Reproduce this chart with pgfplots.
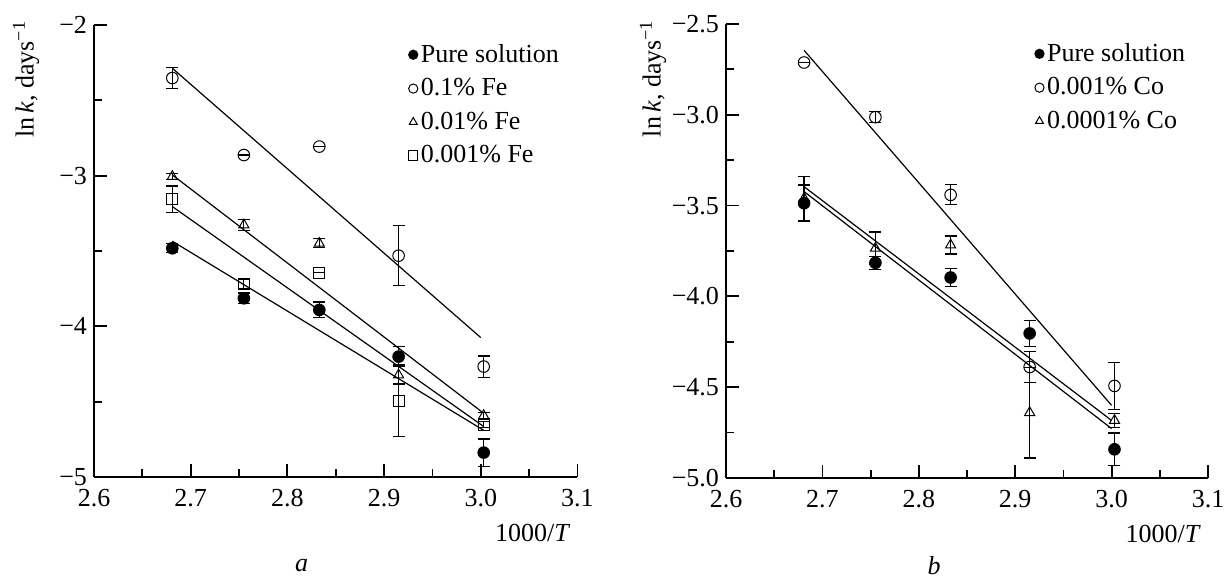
\documentclass[border=0pt]{standalone}
\usepackage{fontspec}
\setmainfont{Liberation Serif}
\usepackage{pgfplots}
\pgfplotsset{compat=1.18}

\pgfplotsset{
  kin/.style={
    scale only axis,
    axis lines=left,
    axis line style={-, line width=1.4pt},
    xmin=2.6, xmax=3.1,
    xtick={2.6,2.7,2.8,2.9,3.0,3.1},
    xticklabels={2.6,2.7,2.8,2.9,3.0,3.1},
    minor x tick num=1, minor y tick num=1,
    tick align=inside,
    major tick length=6.5pt, minor tick length=3.8pt,
    every tick/.style={black, line width=0.9pt},
    tick label style={font=\fontsize{13}{15}\selectfont},
    xticklabel style={yshift=-2.5pt},
    clip=false,
    legend cell align=left,
    legend image code/.code={\draw[mark size=2.3pt] plot coordinates {(0pt,0pt)};},
    legend style={draw=none, fill=none, font=\fontsize{13}{15}\selectfont,
      anchor=north west, row sep=3.6pt, inner sep=0pt,
      nodes={inner sep=1.5pt}},
  },
  pts/.style={only marks, black, mark size=2.9pt, line width=0.5pt,
    error bars/y dir=both, error bars/y explicit,
    error bars/error bar style={line width=0.6pt},
    error bars/error mark options={rotate=90, mark size=3pt, line width=0.6pt}},
  fit/.style={black, line width=0.6pt, no marks, forget plot},
}

\begin{document}
\begin{tikzpicture}
\useasboundingbox (0,0) rectangle (613pt,-290.5pt);

% panel a
\begin{axis}[kin, at={(47pt,-238.5pt)}, anchor=south west,
  width=241.75pt, height=226pt,
  ymin=-5, ymax=-2, ytick={-5,-4,-3,-2}, yticklabels={−5,−4,−3,−2},
  legend style={at={(rel axis cs:0.65,0.965)}}]
\addplot[fit] coordinates {(2.681,-2.287) (3.000,-4.075)};
\addplot[fit] coordinates {(2.681,-2.995) (3.003,-4.577)};
\addplot[fit] coordinates {(2.681,-3.205) (3.003,-4.665)};
\addplot[fit] coordinates {(2.681,-3.435) (3.003,-4.690)};
\addplot[pts, mark=*] table[y error index=2] {
2.681 -3.482 0.03
2.755 -3.814 0.035
2.833 -3.891 0.053
2.915 -4.201 0.066
3.003 -4.838 0.09
};
\addlegendentry{Pure solution}
\addplot[pts, mark=o, mark options={fill=white}] table[y error index=2] {
2.681 -2.352 0.072
2.755 -2.863 0.0
2.833 -2.807 0.0
2.915 -3.531 0.2
3.003 -4.267 0.07
};
\addlegendentry{0.1\% Fe}
\addplot[pts, mark=triangle, mark options={fill=white}] table[y error index=2] {
2.681 -3.006 0.02
2.755 -3.327 0.035
2.833 -3.449 0.03
2.915 -4.323 0.06
3.003 -4.593 0.02
};
\addlegendentry{0.01\% Fe}
\addplot[pts, mark=square, mark size=2.8pt, mark options={fill=white}] table[y error index=2] {
2.681 -3.157 0.088
2.755 -3.721 0.03
2.833 -3.644 0.0
2.915 -4.493 0.236
3.003 -4.654 0.02
};
\addlegendentry{0.001\% Fe}
\node[rotate=90, font=\fontsize{13}{15}\selectfont] at ([xshift=-34pt]rel axis cs:0,0.88) {ln\,\textit{k}, days\textsuperscript{−1}};
\node[anchor=north east, font=\fontsize{13}{15}\selectfont] at (rel axis cs:1,0) [yshift=-20pt] {1000/\textit{T}};
\end{axis}

% panel b
\begin{axis}[kin, at={(363pt,-239pt)}, anchor=south west,
  width=241pt, height=227pt,
  ymin=-5, ymax=-2.5, ytick={-5,-4.5,-4,-3.5,-3,-2.5},
  yticklabels={−5.0,−4.5,−4.0,−3.5,−3.0,−2.5},
  legend style={at={(rel axis cs:0.64,0.965)}}]
\addplot[fit] coordinates {(2.681,-2.645) (3.000,-4.600)};
\addplot[fit] coordinates {(2.681,-3.396) (3.000,-4.683)};
\addplot[fit] coordinates {(2.681,-3.423) (3.000,-4.728)};
\addplot[pts, mark=*] table[y error index=2] {
2.681 -3.487 0.10
2.755 -3.815 0.035
2.833 -3.896 0.05
2.915 -4.204 0.07
3.003 -4.842 0.09
};
\addlegendentry{Pure solution}
\addplot[pts, mark=o, mark options={fill=white}] table[y error index=2] {
2.681 -2.712 0.0
2.755 -3.013 0.03
2.833 -3.441 0.055
2.915 -4.389 0.087
3.003 -4.493 0.13
};
\addlegendentry{0.001\% Co}
\addplot[pts, mark=triangle, mark options={fill=white}] table[y error index=2] {
2.681 -3.46 0.12
2.755 -3.735 0.09
2.833 -3.717 0.05
2.915 -4.64 0.25
3.003 -4.683 0.04
};
\addlegendentry{0.0001\% Co}
\node[rotate=90, font=\fontsize{13}{15}\selectfont] at ([xshift=-36.5pt]rel axis cs:0,0.88) {ln\,\textit{k}, days\textsuperscript{−1}};
\node[anchor=north east, font=\fontsize{13}{15}\selectfont] at (rel axis cs:1,0) [yshift=-20pt] {1000/\textit{T}};
\end{axis}

\node[font=\fontsize{13}{15}\selectfont\itshape] at (150.8pt,-283pt) {a};
\node[font=\fontsize{13}{15}\selectfont\itshape] at (467pt,-283pt) {b};
\end{tikzpicture}
\end{document}
